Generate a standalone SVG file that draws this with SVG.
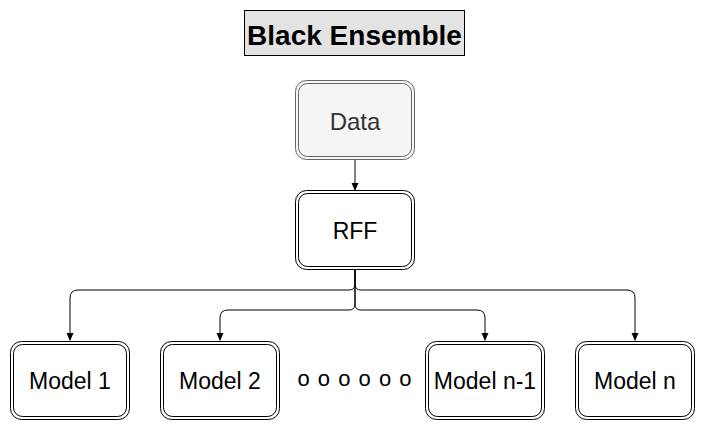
<svg xmlns="http://www.w3.org/2000/svg" width="706" height="432" viewBox="0 0 706 432">
<style>
text{font-family:"Liberation Sans",Arial,sans-serif;text-anchor:middle}
.lbl{font-size:23px;fill:#000}
.o{fill:#fff;stroke:#000;stroke-width:1}
.i{fill:none;stroke:#000;stroke-width:1}
.edge{fill:none;stroke:#000;stroke-width:1;marker-end:url(#arr)}
</style>
<defs>
<marker id="arr" viewBox="0 0 8 8" refX="7" refY="4" markerWidth="8" markerHeight="8" markerUnits="userSpaceOnUse" orient="auto">
<path d="M0,0.5 L8,4 L0,7.5 Z" fill="#000"/>
</marker>
</defs>
<rect width="706" height="432" fill="#fff"/>
<g id="title">
<rect x="244.5" y="10.5" width="220" height="45" fill="#e3e3e3" stroke="#000"/>
<text x="354.5" y="45" style="font-size:28px;font-weight:bold">Black Ensemble</text>
</g>
<g id="connectors">
<path class="edge" d="M355 160 V190"/>
<path class="edge" d="M355 270 V284 Q355 290 349 290 H78 Q70 290 70 298 V340"/>
<path class="edge" d="M355 270 V284 Q355 290 361 290 H627 Q635 290 635 298 V340"/>
<path class="edge" d="M355 270 V304 Q355 310 349 310 H228 Q220 310 220 318 V340"/>
<path class="edge" d="M355 270 V304 Q355 310 361 310 H477 Q485 310 485 318 V340"/>
</g>
<g id="data">
<rect x="295.5" y="80.5" width="119" height="79" rx="11" fill="#f5f5f5" stroke="#666"/>
<rect x="298.5" y="83.5" width="113" height="73" rx="9" fill="none" stroke="#666"/>
<text x="355" y="130" style="font-size:24px;fill:#333">Data</text>
</g>
<g id="rff">
<rect class="o" x="295.5" y="190.5" width="119" height="79" rx="11"/>
<rect class="i" x="298.5" y="193.5" width="113" height="73" rx="9"/>
<text class="lbl" x="355" y="239">RFF</text>
</g>
<g id="model1">
<rect class="o" x="10.5" y="341.5" width="119" height="78" rx="11"/>
<rect class="i" x="13.5" y="344.5" width="113" height="72" rx="9"/>
<text class="lbl" x="70" y="389">Model 1</text>
</g>
<g id="model2">
<rect class="o" x="160.5" y="341.5" width="119" height="78" rx="11"/>
<rect class="i" x="163.5" y="344.5" width="113" height="72" rx="9"/>
<text class="lbl" x="220" y="389">Model 2</text>
</g>
<g id="dots">
<text x="355" y="385.5" style="font-size:22px;letter-spacing:1px">o o o o o o</text>
</g>
<g id="modeln1">
<rect class="o" x="425.5" y="341.5" width="119" height="78" rx="11"/>
<rect class="i" x="428.5" y="344.5" width="113" height="72" rx="9"/>
<text class="lbl" x="485" y="389">Model n-1</text>
</g>
<g id="modeln">
<rect class="o" x="575.5" y="341.5" width="119" height="78" rx="11"/>
<rect class="i" x="578.5" y="344.5" width="113" height="72" rx="9"/>
<text class="lbl" x="635" y="389">Model n</text>
</g>
</svg>
